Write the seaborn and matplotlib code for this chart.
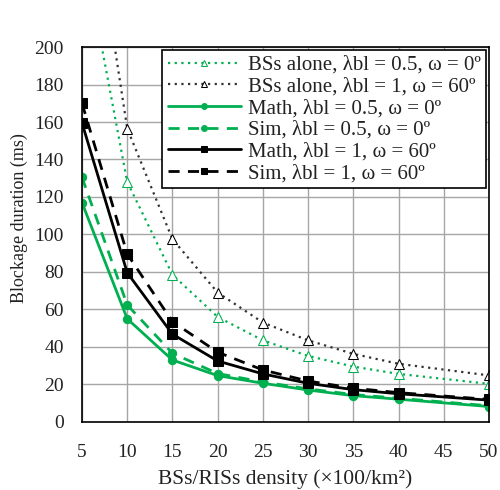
import matplotlib
matplotlib.use("Agg")
import matplotlib.pyplot as plt
import seaborn as sns
import pandas as pd

sns.set_theme(style="white")
plt.rcParams['font.family'] = ['Liberation Serif', 'DejaVu Serif']

x = [5, 10, 15, 20, 25, 30, 35, 40, 50]
bs_alone_05 = [256, 128, 78.5, 56, 43.5, 35.2, 29.5, 25.6, 20.3]
bs_alone_1 = [314, 156.5, 97.5, 69, 53, 43.5, 36.3, 31, 24.8]
math_05 = [117, 55, 33, 24.7, 20.6, 17, 14, 12.1, 8.2]
sim_05 = [130.5, 62.4, 36.6, 25.8, 21.3, 17.6, 14.6, 12.6, 8.6]
math_1 = [159.5, 79.6, 46.8, 32.5, 25.6, 20.6, 17.2, 15, 11.6]
sim_1 = [170, 89.6, 53.5, 37.2, 27.7, 21.8, 18, 15.6, 12]

labels = [
    "BSs alone, λbl = 0.5, ω = 0º",
    "BSs alone, λbl = 1, ω = 60º",
    "Math, λbl = 0.5, ω = 0º",
    "Sim, λbl = 0.5, ω = 0º",
    "Math, λbl = 1, ω = 60º",
    "Sim, λbl = 1, ω = 60º",
]
series = [bs_alone_05, bs_alone_1, math_05, sim_05, math_1, sim_1]

green = "#00B050"
styles = [
    dict(color=green, linestyle=(0, (1, 2)), marker="^", markerfacecolor="white", markeredgecolor=green, markersize=7, linewidth=1.6),
    dict(color="#333333", linestyle=(0, (1, 2)), marker="^", markerfacecolor="white", markeredgecolor="black", markersize=7, linewidth=1.6),
    dict(color=green, linestyle="-", marker="o", markerfacecolor=green, markeredgecolor=green, markersize=6, linewidth=2),
    dict(color=green, linestyle=(0, (4, 3)), marker="o", markerfacecolor=green, markeredgecolor=green, markersize=6, linewidth=2),
    dict(color="black", linestyle="-", marker="s", markerfacecolor="black", markeredgecolor="black", markersize=6.5, linewidth=2),
    dict(color="black", linestyle=(0, (4, 3)), marker="s", markerfacecolor="black", markeredgecolor="black", markersize=6.5, linewidth=2),
]

fig = plt.figure(figsize=(5, 4.9), dpi=100)
ax = fig.add_axes([0.164, 0.139, 0.814, 0.765])

for lab, ys, st in zip(labels, series, styles):
    df = pd.DataFrame({"x": x, "y": ys})
    sns.lineplot(data=df, x="x", y="y", ax=ax, label=lab, **st)

ax.set_xlim(5, 50)
ax.set_ylim(0, 200)
ax.set_xticks(range(5, 51, 5))
ax.set_yticks(range(0, 201, 20))
ax.grid(True, color="#A6A6A6", linewidth=1)
ax.set_axisbelow(True)
for s in ax.spines.values():
    s.set_visible(True)
    s.set_color("black")
    s.set_linewidth(1.2)
ax.tick_params(axis="both", which="both", length=0, labelsize=14, colors="#222222")
ax.tick_params(axis="x", pad=16)
ax.tick_params(axis="y", pad=13)
ax.set_xlabel("BSs/RISs density (×100/km²)", fontsize=15.5, color="#222222", labelpad=6)
ax.set_ylabel("Blockage duration (ms)", fontsize=13, color="#222222")
ax.yaxis.set_label_coords(-0.133, 0.544)

leg = ax.legend(loc="upper right", fontsize=15, frameon=True, fancybox=False,
                edgecolor="black", framealpha=1, handlelength=3.5, handletextpad=0.35,
                borderpad=0.25, labelspacing=0.1, borderaxespad=0.15, markerscale=0.7)
leg.get_frame().set_linewidth(1.2)
for t in leg.get_texts():
    t.set_color("#222222")

fig.savefig("out.png", dpi=100)
